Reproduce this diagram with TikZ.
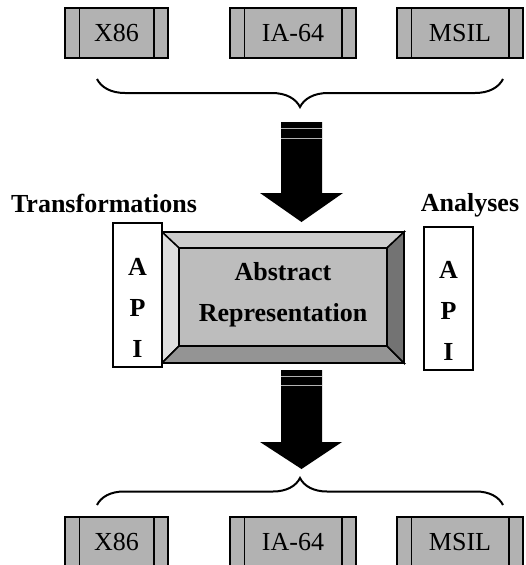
\documentclass[tikz,border=0pt]{standalone}
\usepackage{fontspec}
\setmainfont{Liberation Serif}
\usetikzlibrary{decorations.pathreplacing,positioning}
\tikzstyle{isabox} = [rectangle, draw=black, line width=1.5pt, fill=black!30, minimum height=50pt, inner sep=0pt, font=\fontsize{26}{30}\selectfont]
\tikzstyle{apibox} = [rectangle, draw=black, line width=1.2pt, fill=white, minimum width=49pt, inner sep=0pt]
\tikzstyle{apitext} = [align=center, font=\fontsize{26}{41}\selectfont\bfseries]
\tikzstyle{caption} = [font=\fontsize{26}{30}\selectfont\bfseries]
\tikzstyle{brace} = [decorate, decoration={brace, amplitude=28pt}, line width=2pt]
\tikzstyle{bevel} = [draw=black, line width=1.5pt]
\newcommand{\isastrips}[1]{\draw[line width=1.5pt] ([xshift=15pt]#1.north west) -- ([xshift=15pt]#1.south west) ([xshift=-15pt]#1.north east) -- ([xshift=-15pt]#1.south east);}

\begin{document}
\begin{tikzpicture}[x=1pt, y=-1pt]
\useasboundingbox (0,0) rectangle (525,565);

% input formats
\node (tx86) [isabox, minimum width=103pt] at (116.5,33) {X86};
\node (tia64) [isabox, minimum width=126pt] at (293,33) {IA-64};
\node (tmsil) [isabox, minimum width=126pt] at (460,33) {MSIL};
\foreach \b in {tx86,tia64,tmsil} {\isastrips{\b}}
\coordinate (tbl) at (97,79);
\coordinate (tbr) at (503,79);
\draw [brace, decoration={mirror}] (tbl) -- (tbr);

% arrow in
\fill (281,122) -- (322,122) -- (322,193) -- (343,193) -- (301.5,222) -- (260,193) -- (281,193) -- cycle;
\draw [gray!60, line width=0.8pt] (281,128) -- (322,128) (281,138) -- (322,138);

% abstract representation
\node (absout) [minimum width=242pt, minimum height=131pt, inner sep=0pt] at (283,297.5) {};
\node (absin) [minimum width=208pt, minimum height=98pt, inner sep=0pt] at (283,297) {};
\filldraw [bevel, fill=black!20] (absout.north west) -- (absout.north east) -- (absin.north east) -- (absin.north west) -- cycle;
\filldraw [bevel, fill=black!13] (absout.north west) -- (absin.north west) -- (absin.south west) -- (absout.south west) -- cycle;
\filldraw [bevel, fill=black!42] (absout.south west) -- (absin.south west) -- (absin.south east) -- (absout.south east) -- cycle;
\filldraw [bevel, fill=black!55] (absout.north east) -- (absin.north east) -- (absin.south east) -- (absout.south east) -- cycle;
\filldraw [bevel, fill=black!26] (absin.north west) rectangle (absin.south east);
\draw [line width=2pt] (absout.north west) rectangle (absout.south east);
\node (abstxt) [apitext] at (283,295) {Abstract\\Representation};

% APIs
\node (apiL) [apibox, minimum height=144pt] at (137.5,295) {};
\node (apiLtxt) [apitext] at (137.5,308) {A\\P\\I};
\node (apiR) [apibox, minimum height=143pt] at (448.5,298.5) {};
\node (apiRtxt) [apitext] at (448.5,311) {A\\P\\I};
\node (trans) [caption] at (104,203) {Transformations};
\node (anal) [caption] at (470,205) {Analyses};

% arrow out
\fill (281,370) -- (322,370) -- (322,442) -- (342,442) -- (301.5,469) -- (260,442) -- (281,442) -- cycle;
\draw [gray!60, line width=0.8pt] (281,376) -- (322,376) (281,385) -- (322,385);

% output formats
\coordinate (bbl) at (97,505);
\coordinate (bbr) at (503,505);
\draw [brace, decoration={amplitude=27pt}] (bbl) -- (bbr);
\node (bx86) [isabox, minimum width=103pt] at (116.5,542) {X86};
\node (bia64) [isabox, minimum width=126pt] at (293,542) {IA-64};
\node (bmsil) [isabox, minimum width=126pt] at (460,542) {MSIL};
\foreach \b in {bx86,bia64,bmsil} {\isastrips{\b}}
\end{tikzpicture}
\end{document}
